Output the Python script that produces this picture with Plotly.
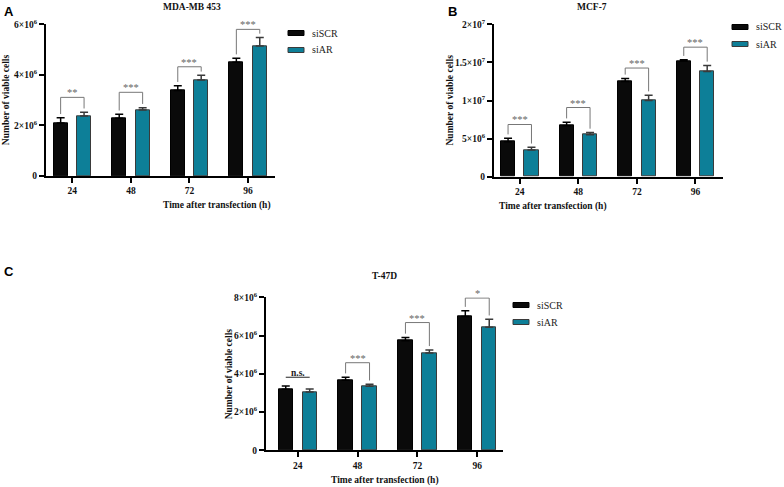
import plotly.graph_objects as go

W, H = 784, 487

times = ["24", "48", "72", "96"]
series_names = ["siSCR", "siAR"]
series_colors = ["#0a0a0a", "#0d7f98"]
edge_colors = ["#000000", "#3a3a3a"]

# Panel A: MDA-MB 453
a_scr = [2.10e6, 2.28e6, 3.38e6, 4.50e6]
a_scr_err = [0.20e6, 0.16e6, 0.19e6, 0.16e6]
a_ar = [2.37e6, 2.61e6, 3.80e6, 5.14e6]
a_ar_err = [0.15e6, 0.09e6, 0.18e6, 0.34e6]
a_sig = ["**", "***", "***", "***"]
a_sig_y = [3.11e6, 3.31e6, 4.32e6, 5.80e6]

# Panel B: MCF-7
b_scr = [4.6e6, 6.7e6, 12.5e6, 15.2e6]
b_scr_err = [0.45e6, 0.45e6, 0.40e6, 0.15e6]
b_ar = [3.5e6, 5.5e6, 10.0e6, 13.8e6]
b_ar_err = [0.35e6, 0.30e6, 0.70e6, 0.80e6]
b_sig = ["***", "***", "***", "***"]
b_sig_y = [6.85e6, 9.08e6, 14.26e6, 17.0e6]

# Panel C: T-47D
c_scr = [3.19e6, 3.66e6, 5.73e6, 7.00e6]
c_scr_err = [0.17e6, 0.16e6, 0.17e6, 0.30e6]
c_ar = [3.05e6, 3.35e6, 5.09e6, 6.43e6]
c_ar_err = [0.16e6, 0.10e6, 0.16e6, 0.42e6]
c_sig = ["n.s.", "***", "***", "*"]
c_sig_y = [3.82e6, 4.58e6, 6.68e6, 7.96e6]

a_ticks = [0, 2e6, 4e6, 6e6]
a_ticktext = ["0", "2×10<sup>6</sup>", "4×10<sup>6</sup>", "6×10<sup>6</sup>"]
b_ticks = [0, 5e6, 1e7, 1.5e7, 2e7]
b_ticktext = ["0", "5×10<sup>6</sup>", "1×10<sup>7</sup>", "1.5×10<sup>7</sup>", "2×10<sup>7</sup>"]
c_ticks = [0, 2e6, 4e6, 6e6, 8e6]
c_ticktext = ["0", "2×10<sup>6</sup>", "4×10<sup>6</sup>", "6×10<sup>6</sup>", "8×10<sup>6</sup>"]

SERIF = "Liberation Serif, Times New Roman, serif"
SANS = "Liberation Sans, Arial, sans-serif"
FS = 9.5

panels = [
    dict(key="A", title="MDA-MB 453", scr=a_scr, scr_err=a_scr_err, ar=a_ar, ar_err=a_ar_err,
         sig=a_sig, sig_y=a_sig_y, ymax=6e6, ticks=a_ticks, ticktext=a_ticktext,
         px=(46, 275), py=(24.3, 176), xr=[-0.45, 3.46],
         letter=(2, 2), ytitle_x=6, legend=(288, 33)),
    dict(key="B", title="MCF-7", scr=b_scr, scr_err=b_scr_err, ar=b_ar, ar_err=b_ar_err,
         sig=b_sig, sig_y=b_sig_y, ymax=2e7, ticks=b_ticks, ticktext=b_ticktext,
         px=(494, 723), py=(24.3, 176.7), xr=[-0.44, 3.47],
         letter=(446, 2), ytitle_x=449, legend=(732, 27)),
    dict(key="C", title="T-47D", scr=c_scr, scr_err=c_scr_err, ar=c_ar, ar_err=c_ar_err,
         sig=c_sig, sig_y=c_sig_y, ymax=8e6, ticks=c_ticks, ticktext=c_ticktext,
         px=(266, 503), py=(297.3, 450.3), xr=[-0.53, 3.43],
         letter=(2, 262), ytitle_x=228.5, legend=(513, 305)),
]

fig = go.Figure()
shapes = []
annotations = []
xpos = list(range(len(times)))
BAR_W = 0.24
OFFS = [-0.32, 0.08]
CENTERS = [-0.2, 0.2]

for k, p in enumerate(panels):
    n = "" if k == 0 else str(k + 1)
    xa, ya = "x" + n, "y" + n
    vals = [p["scr"], p["ar"]]
    errs = [p["scr_err"], p["ar_err"]]
    for s in range(2):
        fig.add_trace(go.Bar(
            x=xpos, y=vals[s], width=BAR_W, offset=OFFS[s],
            marker=dict(color=series_colors[s], line=dict(color=edge_colors[s], width=1)),
            error_y=dict(type="data", symmetric=False, array=errs[s], arrayminus=[0] * 4,
                         color=edge_colors[s], thickness=1.5, width=4),
            name=series_names[s], showlegend=False, xaxis=xa, yaxis=ya,
        ))
    x0, x1 = p["px"]
    ytop, ybot = p["py"]
    dom_x = [x0 / W, x1 / W]
    dom_y = [1 - ybot / H, 1 - ytop / H]
    axcommon = dict(showline=True, linewidth=2, linecolor="black", ticks="outside",
                    ticklen=5, tickwidth=2, tickcolor="black", showgrid=False, zeroline=False,
                    automargin=False,
                    tickfont=dict(family=SERIF, size=FS, color="#111", weight="bold"))
    fig.update_layout(**{
        "xaxis" + n: dict(domain=dom_x, range=p["xr"], tickvals=xpos, ticktext=times,
                          anchor=ya, fixedrange=True, **axcommon),
        "yaxis" + n: dict(domain=dom_y, range=[0, p["ymax"]], tickvals=p["ticks"],
                          ticktext=p["ticktext"], anchor=xa, fixedrange=True, **axcommon),
    })
    # significance brackets
    gap = 0.025 * p["ymax"]
    for i in range(len(times)):
        yb = p["sig_y"][i]
        xl, xr_ = i + CENTERS[0], i + CENTERS[1]
        if p["sig"][i] == "n.s.":
            shapes.append(dict(type="line", xref=xa, yref=ya, x0=xl, x1=xr_, y0=yb, y1=yb,
                               line=dict(color="#222", width=1)))
            annotations.append(dict(x=i, y=yb, xref=xa, yref=ya, text="<b>n.s.</b>",
                                    showarrow=False, yanchor="bottom", yshift=-3,
                                    font=dict(family=SERIF, size=FS, color="#222")))
        else:
            yl = p["scr"][i] + p["scr_err"][i] + gap
            yr = p["ar"][i] + p["ar_err"][i] + gap
            path = f"M {xl} {yl} L {xl} {yb} L {xr_} {yb} L {xr_} {yr}"
            shapes.append(dict(type="path", xref=xa, yref=ya, path=path,
                               line=dict(color="#777", width=1)))
            annotations.append(dict(x=i, y=yb, xref=xa, yref=ya, text=p["sig"][i],
                                    showarrow=False, yanchor="bottom", yshift=-3,
                                    font=dict(family=SERIF, size=10.5, color="#666")))
    # title
    annotations.append(dict(x=(x0 + x1) / 2 / W, y=1 - 7 / H if k < 2 else 1 - 276 / H,
                            xref="paper", yref="paper", text="<b>" + p["title"] + "</b>",
                            showarrow=False, yanchor="middle",
                            font=dict(family=SERIF, size=FS, color="#111")))
    # axis titles
    annotations.append(dict(x=(x0 + x1) / 2 / W, y=1 - (ybot + 30) / H, xref="paper", yref="paper",
                            text="<b>Time after transfection (h)</b>", showarrow=False,
                            yanchor="middle", font=dict(family=SERIF, size=FS, color="#111")))
    annotations.append(dict(x=p["ytitle_x"] / W, y=1 - (ytop + ybot) / 2 / H, xref="paper",
                            yref="paper", text="<b>Number of viable cells</b>", showarrow=False,
                            textangle=-90, xanchor="center", yanchor="middle",
                            font=dict(family=SERIF, size=FS, color="#111")))
    # panel letter
    lx, ly = p["letter"]
    annotations.append(dict(x=lx / W, y=1 - ly / H, xref="paper", yref="paper",
                            text="<b>" + p["key"] + "</b>", showarrow=False,
                            xanchor="left", yanchor="top",
                            font=dict(family=SANS, size=13, color="#000")))
    # legend
    gx, gy = p["legend"]
    for s in range(2):
        yy = gy + s * 17
        shapes.append(dict(type="rect", xref="paper", yref="paper",
                           x0=gx / W, x1=(gx + 16) / W, y0=1 - (yy - 2.5) / H, y1=1 - (yy + 2.5) / H,
                           fillcolor=series_colors[s], line=dict(color=edge_colors[s], width=1)))
        annotations.append(dict(x=(gx + 22) / W, y=1 - yy / H, xref="paper", yref="paper",
                                text=series_names[s], showarrow=False, xanchor="left",
                                yanchor="middle",
                                font=dict(family=SERIF, size=10, color="#222")))

fig.update_layout(width=W, height=H, margin=dict(l=0, r=0, t=0, b=0, autoexpand=False),
                  paper_bgcolor="white", plot_bgcolor="white", showlegend=False,
                  shapes=shapes, annotations=annotations, bargap=0)
fig.write_html("out.html", config={"displayModeBar": False},
               post_script="document.body.style.margin='0';document.body.style.overflow='hidden';")
